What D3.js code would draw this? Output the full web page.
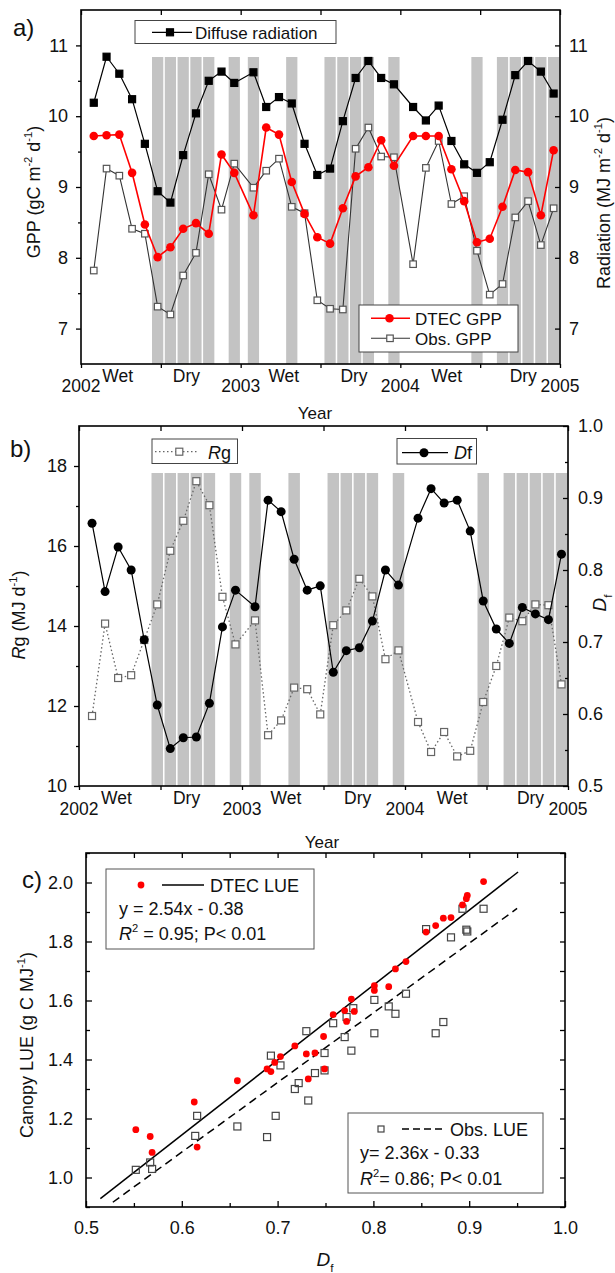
<!DOCTYPE html>
<html><head><meta charset="utf-8">
<script src="https://cdn.jsdelivr.net/npm/d3@7"></script>
<style>
body{margin:0;background:#fff}
svg{display:block}
text{font-family:"Liberation Sans",Arial,sans-serif;fill:#111}
</style>
</head><body>
<svg id="chart" width="615" height="1273"></svg>
<script>
// ---------------- DATA ----------------
const yearTicks = [2002, 2003, 2004, 2005];
const halfYearTicks = [2002, 2002.5, 2003, 2003.5, 2004, 2004.5, 2005];
const seasonLabels = ["Wet", "Dry", "Wet", "Dry", "Wet", "Dry"];
const seasonPos = [2002.23, 2002.66, 2003.27, 2003.71, 2004.29, 2004.77];
// months counted from Jan 2002 (1..36)
const monthIndex = d3.range(1, 37);
// dry-season months shaded (1-based index from Jan 2002)
const dryMonths = [6, 7, 8, 9, 10, 12, 13, 16, 19, 20, 21, 22, 24, 30, 32, 33, 34, 35, 36];

// panel a
const diffuseRad = [10.19, 10.84, 10.60, 10.24, 9.61, 8.94, 8.78, 9.45, 10.04, 10.50, 10.63, 10.47,
  10.62, 10.13, 10.27, 10.18, 9.61, 9.17, 9.26, 9.93, 10.54, 10.78, 10.54, 10.45,
  10.13, 9.94, 10.15, 9.65, 9.32, 9.20, 9.35, 9.95, 10.58, 10.78, 10.63, 10.32];
const dtecGpp = [9.72, 9.73, 9.74, 9.20, 8.47, 8.01, 8.15, 8.41, 8.49, 8.34, 9.46, 9.20,
  8.60, 9.84, 9.74, 9.07, 8.62, 8.29, 8.20, 8.70, 9.15, 9.28, 9.66, 9.30,
  9.72, 9.72, 9.72, 9.25, 8.80, 8.22, 8.27, 8.72, 9.24, 9.21, 8.60, 9.52];
const obsGpp = [7.82, 9.26, 9.16, 8.41, 8.34, 7.31, 7.20, 7.75, 8.07, 9.18, 8.68, 9.33,
  8.99, 9.23, 9.40, 8.72, 8.63, 7.40, 7.28, 7.27, 9.54, 9.84, 9.43, 9.42,
  7.91, 9.27, 9.65, 8.76, 8.87, 8.10, 7.48, 7.63, 8.57, 8.80, 8.18, 8.70];
const gppTicks = [7, 8, 9, 10, 11];
const gppMinor = [7.5, 8.5, 9.5, 10.5];

// panel b
const rgVals = [11.75, 14.06, 12.70, 12.77, 13.65, 14.54, 15.88, 16.63, 17.62, 17.02, 14.73, 13.54,
  14.14, 11.27, 11.64, 12.46, 12.42, 11.79, 14.02, 14.39, 15.18, 14.74, 13.17, 13.39,
  11.60, 10.85, 11.35, 10.74, 10.88, 12.10, 13.00, 14.21, 14.12, 14.54, 14.52, 12.54];
const dfVals = [0.865, 0.770, 0.832, 0.800, 0.703, 0.6125, 0.552, 0.567, 0.568, 0.615, 0.721, 0.772,
  0.749, 0.897, 0.881, 0.815, 0.772, 0.778, 0.658, 0.688, 0.692, 0.729, 0.800, 0.779,
  0.872, 0.913, 0.893, 0.897, 0.854, 0.757, 0.718, 0.698, 0.748, 0.739, 0.731, 0.822];
const rgTicks = [10, 12, 14, 16, 18];
const rgMinor = [11, 13, 15, 17];
const dfTicks = [0.5, 0.6, 0.7, 0.8, 0.9, 1.0];
const dfMinor = [0.55, 0.65, 0.75, 0.85, 0.95];

// panel c
const dtecLueDf = [0.552, 0.567, 0.569, 0.613, 0.616, 0.658, 0.689, 0.693, 0.697, 0.703, 0.718, 0.730,
  0.732, 0.739, 0.749, 0.748, 0.758, 0.770, 0.772, 0.777, 0.780, 0.801, 0.801, 0.816,
  0.823, 0.834, 0.855, 0.865, 0.873, 0.881, 0.893, 0.897, 0.898, 0.915];
const dtecLue = [1.162, 1.139, 1.085, 1.256, 1.103, 1.328, 1.368, 1.359, 1.390, 1.410, 1.446, 1.419,
  1.334, 1.422, 1.368, 1.478, 1.552, 1.566, 1.529, 1.605, 1.563, 1.650, 1.634, 1.647,
  1.707, 1.732, 1.832, 1.854, 1.879, 1.881, 1.924, 1.945, 1.956, 2.003];
const obsLueDf = [0.552, 0.567, 0.569, 0.614, 0.616, 0.658, 0.689, 0.693, 0.698, 0.703, 0.718, 0.722,
  0.732, 0.739, 0.749, 0.749, 0.777, 0.730, 0.758, 0.770, 0.772, 0.779, 0.801, 0.801,
  0.816, 0.823, 0.834, 0.855, 0.865, 0.873, 0.881, 0.893, 0.897, 0.898, 0.915];
const obsLue = [1.026, 1.051, 1.029, 1.141, 1.209, 1.173, 1.137, 1.413, 1.209, 1.380, 1.300, 1.320,
  1.261, 1.354, 1.422, 1.363, 1.430, 1.496, 1.523, 1.476, 1.544, 1.574, 1.602, 1.489,
  1.580, 1.555, 1.623, 1.842, 1.489, 1.527, 1.814, 1.911, 1.840, 1.834, 1.911];
const dtecFit = {slope: 2.54, intercept: -0.38, from: 0.515, to: 0.951};
const obsFit = {slope: 2.36, intercept: -0.33, from: 0.528, to: 0.950};
const lueTicks = [1.0, 1.2, 1.4, 1.6, 1.8, 2.0];
const lueMinor = [0.9, 1.1, 1.3, 1.5, 1.7, 1.9, 2.1];
const dfxTicks = [0.5, 0.6, 0.7, 0.8, 0.9, 1.0];
const dfxMinor = [0.55, 0.65, 0.75, 0.85, 0.95];

// ---------------- HELPERS ----------------
const svg = d3.select("#chart");
const FONT = '"Liberation Sans",Arial,sans-serif';
const monthPos = i => 2002 + Math.floor((i - 1) / 12) + (((i - 1) % 12) + 1) / 12.5;

function rich(sel, parts, fs) {
  let shift = 0;
  parts.forEach(p => {
    const kind = p[1] || [];
    const ts = sel.append("tspan").text(p[0]);
    let target = 0;
    if (kind.includes("sup")) target = -0.42 * fs;
    if (kind.includes("sub")) target = 0.3 * fs;
    if (target - shift !== 0) ts.attr("dy", target - shift);
    shift = target;
    if (kind.includes("sup") || kind.includes("sub")) ts.attr("font-size", fs * 0.62);
    if (kind.includes("it")) ts.attr("font-style", "italic");
  });
}
function label(x, y, parts, fs, opts = {}) {
  const t = svg.append("text").attr("font-size", fs)
    .attr("text-anchor", opts.anchor || "start");
  if (opts.rotate) t.attr("transform", `translate(${x},${y}) rotate(${opts.rotate})`);
  else t.attr("x", x).attr("y", y);
  rich(t, parts, fs);
  return t;
}
function styleAxis(g, fs) {
  g.select(".domain").remove();
  g.selectAll("line").attr("stroke", "#000").attr("stroke-width", 1.3);
  g.selectAll("text").attr("font-size", fs).attr("font-family", FONT).attr("fill", "#111");
}
function frame(x0, x1, y0, y1) {
  svg.append("rect").attr("x", x0).attr("y", y0).attr("width", x1 - x0).attr("height", y1 - y0)
    .attr("fill", "none").attr("stroke", "#000").attr("stroke-width", 1.6);
}
const sq = (g, x, y, s, fill, stroke) => g.append("rect").attr("x", x - s / 2).attr("y", y - s / 2)
  .attr("width", s).attr("height", s).attr("fill", fill).attr("stroke", stroke).attr("stroke-width", 1.2);

// ---------------- PANEL A ----------------
const A = {l: 81, r: 560, t: 10, b: 364};
const xA = d3.scaleLinear([2002, 2005], [A.l, A.r]);
const yA = d3.scaleLinear([6.5, 11.5], [A.b, A.t]);
const bwA = (xA(2002 + 1 / 12.5) - xA(2002)) * 0.88;
const gA = svg.append("g");
gA.selectAll("rect.bar").data(dryMonths).join("rect")
  .attr("x", d => xA(monthPos(d)) - bwA / 2).attr("y", A.t + 47)
  .attr("width", bwA).attr("height", A.b - A.t - 47).attr("fill", "#c3c3c3");

const lineA = vals => d3.line().x((d, i) => xA(monthPos(monthIndex[i]))).y(d => yA(d))(vals);
gA.append("path").attr("d", lineA(obsGpp)).attr("fill", "none").attr("stroke", "#333").attr("stroke-width", 1.1);
obsGpp.forEach((v, i) => sq(gA, xA(monthPos(monthIndex[i])), yA(v), 6.5, "#fff", "#555"));
gA.append("path").attr("d", lineA(dtecGpp)).attr("fill", "none").attr("stroke", "#f00").attr("stroke-width", 1.6);
gA.selectAll("circle.dt").data(dtecGpp).join("circle")
  .attr("cx", (d, i) => xA(monthPos(monthIndex[i]))).attr("cy", d => yA(d)).attr("r", 4.3).attr("fill", "#f00");
gA.append("path").attr("d", lineA(diffuseRad)).attr("fill", "none").attr("stroke", "#000").attr("stroke-width", 1.2);
diffuseRad.forEach((v, i) => sq(gA, xA(monthPos(monthIndex[i])), yA(v), 7, "#000", "#000"));

// axes a
svg.append("g").attr("transform", `translate(${A.l},0)`).call(d3.axisLeft(yA).tickValues(gppTicks).tickSize(5).tickPadding(8).tickFormat(d3.format("d"))).call(g => styleAxis(g, 18));
svg.append("g").attr("transform", `translate(${A.l},0)`).call(d3.axisLeft(yA).tickValues(gppMinor).tickSize(3).tickFormat("")).call(g => styleAxis(g, 18));
svg.append("g").attr("transform", `translate(${A.r},0)`).call(d3.axisRight(yA).tickValues(gppTicks).tickSize(-5).tickPadding(9).tickFormat(d3.format("d"))).call(g => styleAxis(g, 18));
svg.append("g").attr("transform", `translate(0,${A.b})`).call(d3.axisBottom(xA).tickValues(halfYearTicks).tickSize(4).tickFormat("")).call(g => styleAxis(g, 17));
svg.append("g").attr("transform", `translate(0,${A.t})`).call(d3.axisBottom(xA).tickValues(halfYearTicks).tickSize(5).tickFormat("")).call(g => styleAxis(g, 17));
frame(A.l, A.r, A.t, A.b);
yearTicks.forEach(y => label(xA(y), A.b + 28, [[String(y)]], 17.5, {anchor: "middle"}));
seasonLabels.forEach((s, i) => label(xA(seasonPos[i]), A.b + 18, [[s]], 17.5, {anchor: "middle"}));
label(315, 419, [["Year"]], 17, {anchor: "middle"});
label(13, 36, [["a)"]], 24);
label(40, 192, [["GPP (gC m"], ["-2", ["sup"]], [" d"], ["-1", ["sup"]], [")"]], 18, {anchor: "middle", rotate: -90});
label(610, 203, [["Radiation (MJ m"], ["-2", ["sup"]], [" d"], ["-1", ["sup"]], [")"]], 18, {anchor: "middle", rotate: -90});

// legends a
svg.append("rect").attr("x", 135).attr("y", 20.5).attr("width", 201).attr("height", 23).attr("fill", "#fff").attr("stroke", "#444").attr("stroke-width", 1);
svg.append("line").attr("x1", 152).attr("x2", 192).attr("y1", 32.3).attr("y2", 32.3).attr("stroke", "#000").attr("stroke-width", 1.2);
sq(svg, 170, 32.3, 7, "#000", "#000");
label(195, 39, [["Diffuse radiation"]], 17);

svg.append("rect").attr("x", 359).attr("y", 305).attr("width", 159).attr("height", 47).attr("fill", "#fff").attr("stroke", "#444").attr("stroke-width", 1);
svg.append("line").attr("x1", 371).attr("x2", 410).attr("y1", 318.3).attr("y2", 318.3).attr("stroke", "#f00").attr("stroke-width", 1.6);
svg.append("circle").attr("cx", 389.5).attr("cy", 318.3).attr("r", 4.3).attr("fill", "#f00");
svg.append("line").attr("x1", 371).attr("x2", 410).attr("y1", 338.3).attr("y2", 338.3).attr("stroke", "#333").attr("stroke-width", 1.1);
sq(svg, 390, 338.3, 6.5, "#fff", "#555");
label(415, 324.5, [["DTEC GPP"]], 17);
label(415, 344.5, [["Obs. GPP"]], 17);

// ---------------- PANEL B ----------------
const B = {l: 79, r: 568, t: 426, b: 786};
const xB = d3.scaleLinear([2002, 2005], [B.l, B.r]);
const yB = d3.scaleLinear([10, 19], [B.b, B.t]);
const yB2 = d3.scaleLinear([0.5, 1.0], [B.b, B.t]);
const bwB = (xB(2002 + 1 / 12.5) - xB(2002)) * 0.88;
const gB = svg.append("g");
gB.selectAll("rect.bar").data(dryMonths).join("rect")
  .attr("x", d => xB(monthPos(d)) - bwB / 2).attr("y", B.t + 47)
  .attr("width", bwB).attr("height", B.b - B.t - 47).attr("fill", "#c3c3c3");
gB.append("path").attr("d", d3.line().x((d, i) => xB(monthPos(monthIndex[i]))).y(d => yB(d))(rgVals))
  .attr("fill", "none").attr("stroke", "#666").attr("stroke-width", 1.3).attr("stroke-dasharray", "1.5,2.5");
rgVals.forEach((v, i) => sq(gB, xB(monthPos(monthIndex[i])), yB(v), 7, "#fff", "#666"));
gB.append("path").attr("d", d3.line().x((d, i) => xB(monthPos(monthIndex[i]))).y(d => yB2(d))(dfVals))
  .attr("fill", "none").attr("stroke", "#000").attr("stroke-width", 1.2);
gB.selectAll("circle.df").data(dfVals).join("circle")
  .attr("cx", (d, i) => xB(monthPos(monthIndex[i]))).attr("cy", d => yB2(d)).attr("r", 4.5).attr("fill", "#000");

svg.append("g").attr("transform", `translate(${B.l},0)`).call(d3.axisLeft(yB).tickValues(rgTicks).tickSize(5).tickPadding(7).tickFormat(d3.format("d"))).call(g => styleAxis(g, 18));
svg.append("g").attr("transform", `translate(${B.l},0)`).call(d3.axisLeft(yB).tickValues(rgMinor).tickSize(3).tickFormat("")).call(g => styleAxis(g, 18));
svg.append("g").attr("transform", `translate(${B.r},0)`).call(d3.axisRight(yB2).tickValues(dfTicks).tickSize(-5).tickPadding(10).tickFormat(d3.format(".1f"))).call(g => styleAxis(g, 18));
svg.append("g").attr("transform", `translate(${B.r},0)`).call(d3.axisRight(yB2).tickValues(dfMinor).tickSize(-3).tickFormat("")).call(g => styleAxis(g, 18));
svg.append("g").attr("transform", `translate(0,${B.b})`).call(d3.axisBottom(xB).tickValues(halfYearTicks).tickSize(4).tickFormat("")).call(g => styleAxis(g, 17));
svg.append("g").attr("transform", `translate(0,${B.t})`).call(d3.axisBottom(xB).tickValues(halfYearTicks).tickSize(5).tickFormat("")).call(g => styleAxis(g, 17));
frame(B.l, B.r, B.t, B.b);
yearTicks.forEach(y => label(xB(y), B.b + 29, [[String(y)]], 17.5, {anchor: "middle"}));
seasonLabels.forEach((s, i) => label(xB(seasonPos[i]), B.b + 18, [[s]], 17.5, {anchor: "middle"}));
label(322, 848, [["Year"]], 17, {anchor: "middle"});
label(10, 457, [["b)"]], 24);
label(25, 615, [["R", ["it"]], ["g (MJ d"], ["-1", ["sup"]], [")"]], 18, {anchor: "middle", rotate: -90});
label(606, 603, [["D", ["it"]], ["f", ["sub"]]], 19, {anchor: "middle", rotate: -90});

// legends b
svg.append("rect").attr("x", 152).attr("y", 439).attr("width", 85.5).attr("height", 24.5).attr("fill", "#fff").attr("stroke", "#444").attr("stroke-width", 1);
svg.append("line").attr("x1", 155).attr("x2", 198).attr("y1", 451.7).attr("y2", 451.7).attr("stroke", "#666").attr("stroke-width", 1.3).attr("stroke-dasharray", "1.5,2.5");
sq(svg, 179.3, 451.7, 7, "#fff", "#666");
label(208, 458.5, [["R", ["it"]], ["g"]], 18);
svg.append("rect").attr("x", 397).attr("y", 438.5).attr("width", 79.5).attr("height", 25.5).attr("fill", "#fff").attr("stroke", "#444").attr("stroke-width", 1);
svg.append("line").attr("x1", 402).attr("x2", 448).attr("y1", 452.7).attr("y2", 452.7).attr("stroke", "#000").attr("stroke-width", 1.2);
svg.append("circle").attr("cx", 424).attr("cy", 452.7).attr("r", 4.5).attr("fill", "#000");
label(454, 459, [["D", ["it"]], ["f"]], 18);

// ---------------- PANEL C ----------------
const C = {l: 86, r: 565, t: 853, b: 1207};
const xC = d3.scaleLinear([0.5, 1.0], [C.l, C.r]);
const yC = d3.scaleLinear([0.9, 2.1], [C.b, C.t]);
const gC = svg.append("g");
gC.append("line").attr("x1", xC(dtecFit.from)).attr("y1", yC(dtecFit.slope * dtecFit.from + dtecFit.intercept))
  .attr("x2", xC(dtecFit.to)).attr("y2", yC(dtecFit.slope * dtecFit.to + dtecFit.intercept))
  .attr("stroke", "#000").attr("stroke-width", 1.5);
gC.append("line").attr("x1", xC(obsFit.from)).attr("y1", yC(obsFit.slope * obsFit.from + obsFit.intercept))
  .attr("x2", xC(obsFit.to)).attr("y2", yC(obsFit.slope * obsFit.to + obsFit.intercept))
  .attr("stroke", "#000").attr("stroke-width", 1.5).attr("stroke-dasharray", "8,5");
obsLue.forEach((v, i) => sq(gC, xC(obsLueDf[i]), yC(v), 7, "none", "#444"));
gC.selectAll("circle.lue").data(dtecLue).join("circle")
  .attr("cx", (d, i) => xC(dtecLueDf[i])).attr("cy", d => yC(d)).attr("r", 3.4).attr("fill", "#f00");

svg.append("g").attr("transform", `translate(${C.l},0)`).call(d3.axisLeft(yC).tickValues(lueTicks).tickSize(-6).tickPadding(13).tickFormat(d3.format(".1f"))).call(g => styleAxis(g, 18));
svg.append("g").attr("transform", `translate(${C.l},0)`).call(d3.axisLeft(yC).tickValues(lueMinor).tickSize(-4).tickFormat("")).call(g => styleAxis(g, 18));
svg.append("g").attr("transform", `translate(${C.r},0)`).call(d3.axisRight(yC).tickValues(lueTicks.concat(lueMinor)).tickSize(-5).tickFormat("")).call(g => styleAxis(g, 18));
svg.append("g").attr("transform", `translate(0,${C.b})`).call(d3.axisBottom(xC).tickValues(dfxTicks).tickSize(-6).tickPadding(14).tickFormat(d3.format(".1f"))).call(g => styleAxis(g, 18));
svg.append("g").attr("transform", `translate(0,${C.b})`).call(d3.axisBottom(xC).tickValues(dfxMinor).tickSize(-4).tickFormat("")).call(g => styleAxis(g, 18));
svg.append("g").attr("transform", `translate(0,${C.t})`).call(d3.axisTop(xC).tickValues(dfxTicks.concat(dfxMinor)).tickSize(-5).tickFormat("")).call(g => styleAxis(g, 18));
frame(C.l, C.r, C.t, C.b);
label(22, 888, [["c)"]], 24);
label(33, 1045, [["Canopy LUE (g C MJ"], ["-1", ["sup"]], [")"]], 18, {anchor: "middle", rotate: -90});
label(325, 1266, [["D", ["it"]], ["f", ["sub"]]], 19, {anchor: "middle"});

// legends c
svg.append("rect").attr("x", 106).attr("y", 869).attr("width", 208).attr("height", 80).attr("fill", "#fff").attr("stroke", "#555").attr("stroke-width", 1);
svg.append("circle").attr("cx", 141).attr("cy", 885).attr("r", 3.4).attr("fill", "#f00");
svg.append("line").attr("x1", 162).attr("x2", 204).attr("y1", 885).attr("y2", 885).attr("stroke", "#000").attr("stroke-width", 1.5);
label(210, 891.5, [["DTEC LUE"]], 18);
label(119, 915, [["y = 2.54x - 0.38"]], 18);
label(119, 940, [["R", ["it"]], ["2", ["sup"]], [" = 0.95; P< 0.01"]], 18);

svg.append("rect").attr("x", 348).attr("y", 1113).attr("width", 195).attr("height", 80).attr("fill", "#fff").attr("stroke", "#555").attr("stroke-width", 1);
sq(svg, 381, 1129, 6, "#fff", "#444");
svg.append("line").attr("x1", 402).attr("x2", 446).attr("y1", 1129).attr("y2", 1129).attr("stroke", "#000").attr("stroke-width", 1.5).attr("stroke-dasharray", "7,4");
label(450, 1136, [["Obs. LUE"]], 18);
label(360, 1159, [["y= 2.36x - 0.33"]], 18);
label(360, 1185, [["R", ["it"]], ["2", ["sup"]], ["= 0.86; P< 0.01"]], 18);
</script>
</body></html>
